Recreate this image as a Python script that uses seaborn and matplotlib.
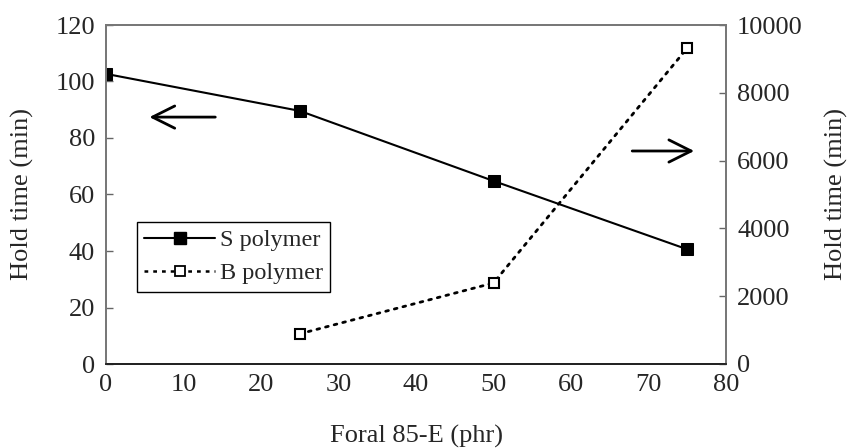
import matplotlib
matplotlib.use("Agg")
import matplotlib.pyplot as plt
import seaborn as sns
import pandas as pd
from matplotlib.lines import Line2D

# data
s_x = [0, 25, 50, 75]
s_hold = [102.7, 89.6, 64.8, 40.6]
b_x = [25, 50, 75]
b_hold = [890, 2390, 9320]
x_ticks = [0, 10, 20, 30, 40, 50, 60, 70, 80]
left_ticks = [0, 20, 40, 60, 80, 100, 120]
right_ticks = [0, 2000, 4000, 6000, 8000, 10000]

sns.set_style("white")
plt.rcParams['font.family'] = ['Liberation Serif', 'DejaVu Serif']
FS = 19
plt.rcParams['font.size'] = FS

fig = plt.figure(figsize=(8.54, 4.48), dpi=100)
ax = fig.add_axes([106/854, 1-364/448, (726-106)/854, (364-25)/448])
ax2 = ax.twinx()

df_s = pd.DataFrame({"x": s_x, "y": s_hold})
df_b = pd.DataFrame({"x": b_x, "y": b_hold})

sns.lineplot(data=df_s, x="x", y="y", ax=ax, color="black", linewidth=1.5,
             marker="s", markersize=8, markerfacecolor="black",
             markeredgecolor="black", legend=False)
sns.lineplot(data=df_b, x="x", y="y", ax=ax2, color="black", linewidth=2,
             linestyle=(0, (1, 2.2)), marker="s", markersize=7,
             markerfacecolor="white", markeredgecolor="black",
             markeredgewidth=1.5, legend=False)
for l in ax2.get_lines():
    l.set_dash_capstyle("round")

ax.set_xlim(0, 80)
ax.set_ylim(0, 120)
ax2.set_ylim(0, 10000)
ax.set_xticks(x_ticks)
ax.set_yticks(left_ticks)
ax2.set_yticks(right_ticks)

ax.tick_params(axis="x", direction="in", length=5, width=1, color="#444444",
               top=False, pad=7, labelsize=FS)
ax.tick_params(axis="y", direction="in", length=5, width=1, color="#666666",
               pad=8, labelsize=FS)
ax2.tick_params(axis="y", direction="in", length=5, width=1, color="#666666",
                pad=8, labelsize=FS)

for a in (ax, ax2):
    for side, sp in a.spines.items():
        sp.set_visible(True)
        sp.set_color("#777777")
        sp.set_linewidth(1.3)
    a.spines["bottom"].set_color("#222222")
    a.grid(False)

ax.set_xlabel("Foral 85-E (phr)", fontsize=FS)
ax.set_ylabel("Hold time (min)", fontsize=FS)
ax2.set_ylabel("Hold time (min)", fontsize=FS)
ax.xaxis.set_label_coords(0.5, -(425 - 364) / 339)
ax.yaxis.set_label_coords(-(106 - 11) / 620, 0.5)
ax2.yaxis.set_label_coords((825 - 106) / 620, 0.5)
ax.yaxis.label.set_va("top")
ax2.yaxis.label.set_va("top")

# arrows
ax.annotate("", xy=(5.6, 87.4), xytext=(14.1, 87.4),
            arrowprops=dict(arrowstyle="->", color="black", lw=2,
                            mutation_scale=40, shrinkA=0, shrinkB=0))
ax.annotate("", xy=(75.9, 75.4), xytext=(67.9, 75.4),
            arrowprops=dict(arrowstyle="->", color="black", lw=2,
                            mutation_scale=40, shrinkA=0, shrinkB=0))

handles = [
    Line2D([], [], color="black", lw=1.5, marker="s", markersize=8,
           markerfacecolor="black", markeredgecolor="black"),
    Line2D([], [], color="black", lw=1.8, linestyle=(0, (1.5, 2)),
           marker="s", markersize=6.5, markerfacecolor="white",
           markeredgecolor="black", markeredgewidth=1.3),
]
leg = ax.legend(handles, ["S polymer", "B polymer"], loc="upper left",
                bbox_to_anchor=(137/854, 1-222/448), bbox_transform=fig.transFigure,
                frameon=True, fancybox=False, edgecolor="black", framealpha=1,
                handlelength=2.9, handletextpad=0.2, borderpad=0.3,
                labelspacing=0.45, fontsize=17.5, borderaxespad=0)
leg.get_frame().set_linewidth(1.0)
leg.set_zorder(10)

fig.savefig("out.png", dpi=100)
